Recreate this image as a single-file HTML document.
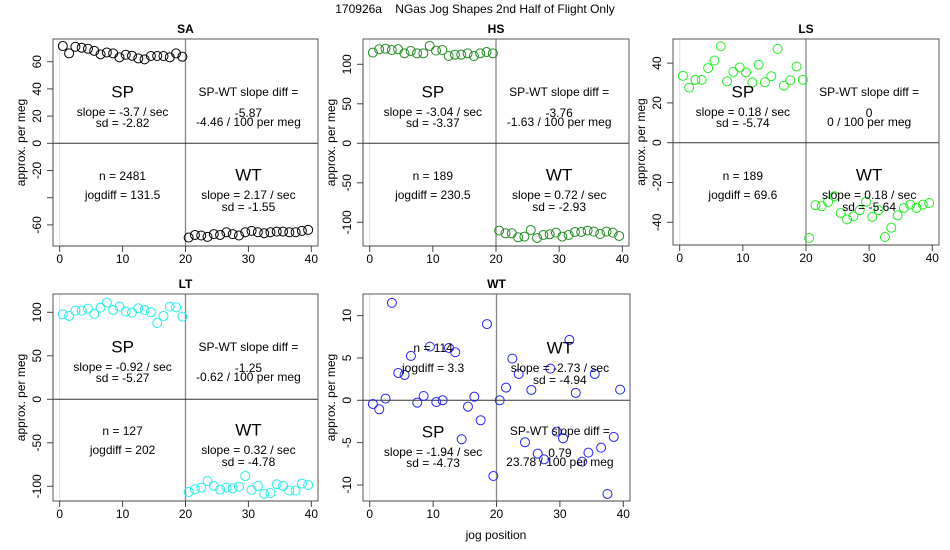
<!DOCTYPE html>
<html><head><meta charset="utf-8"><style>
html,body{margin:0;padding:0;background:#fff;}
svg{display:block;font-family:"Liberation Sans",sans-serif;}
</style></head><body>
<svg id="chart" width="950" height="550" viewBox="0 0 950 550" xmlns="http://www.w3.org/2000/svg">
<text x="475" y="13" font-size="12" text-anchor="middle">170926a&#160;&#160;&#160;&#160;NGas Jog Shapes 2nd Half of Flight Only</text>
<text x="496" y="539" font-size="12" text-anchor="middle">jog position</text>
</svg>
<script>
const xTicks = [0, 10, 20, 30, 40];
const saSP = [71.5,66.1,71,70.3,69.5,68,65.4,66.8,66.1,63.2,65.1,64.4,62.4,61.7,64.2,64.2,64.2,63.2,66.1,63.7];
const saWT = [-69.3,-67.4,-67.8,-68.8,-66.8,-67.4,-65.4,-66.8,-67.8,-65.4,-64.4,-65.4,-66.1,-65.4,-64.9,-64.9,-65.4,-65.4,-64.4,-63.7];
const hsSP = [114.8,119,119.8,118.1,119,113.9,116.9,113.9,113.9,123.2,117.3,118.1,110.5,112.2,112.2,113.9,110.5,113.9,115.6,113.9];
const hsWT = [-110.5,-113.9,-113.9,-119,-118.1,-109.7,-119.8,-116,-115.2,-113.1,-118.1,-116,-112.2,-112.2,-110.5,-111.8,-114.8,-111.8,-113.1,-117.3];
const lsSP = [33.6,27.7,31.6,31.6,37.5,41.3,48.4,30.8,35.6,37.8,35.3,30.3,39.2,30.4,33.4,47.1,28.6,31.3,38.3,31.6];
const lsWT = [-47.9,-31.4,-31.9,-29.7,-26.9,-35.3,-38.5,-37,-33.9,-29.7,-37.3,-33.9,-47.4,-42.7,-36.5,-32.8,-31.1,-32.8,-31.1,-30.3];
const ltSP = [97.7,95.8,101.9,101.9,104.2,98.1,105.4,111.1,102.7,106.5,100.8,99.6,104.6,102.7,100,87.7,95.8,106.5,105.7,95];
const ltWT = [-106.5,-103.4,-101.5,-93.9,-99.6,-103.8,-101.5,-102.3,-100.4,-88.1,-104.2,-99.6,-108.8,-107.7,-97.7,-99.6,-105,-105,-96.9,-98.5];
const wtSP = [-0.43,-1.06,0.2,11.5,3.23,2.99,5.24,-0.28,0.51,6.34,-0.2,0,6.18,5.67,-4.6,-0.75,0.43,-2.36,9.0,-8.94];
const wtWT = [0,1.5,4.92,3.11,-4.96,1.22,-6.3,-6.97,3.74,-3.7,-4.49,7.13,0.87,-7.24,-6.18,3.11,-5.59,-11.06,-4.33,1.26];
const saTicks = [60,40,20,0,-20,-40,-60];
const saTickLabels = ["60","40","20","0","-20","","-60"];
const hsTicks = [100,50,0,-50,-100];
const lsTicks = [40,20,0,-20,-40];
const ltTicks = [100,50,0,-50,-100];
const wtTicks = [10,5,0,-5,-10];

const NS = "http://www.w3.org/2000/svg";
const svg = document.getElementById('chart');
function mk(tag, attrs, parent) {
  const e = document.createElementNS(NS, tag);
  for (const k in attrs) e.setAttribute(k, attrs[k]);
  (parent || svg).appendChild(e);
  return e;
}
function txt(parent, x, y, s, size, name, extra) {
  const t = mk('text', Object.assign({x: x, y: y, 'font-size': size, 'text-anchor': 'middle', 'dominant-baseline': 'central'}, extra || {}), parent);
  t.textContent = s;
  
  
  return t;
}

const panels = [
  {id:'sa', title:'SA', box:[53,39,318,246], y0:143.3, k:1.36, ticks:saTicks, labels:saTickLabels, sp:saSP, wt:saWT, col:'#000',
   sp_s:'-3.7', sp_sd:'-2.82', wt_s:'2.17', wt_sd:'-1.55', diff:'-5.87', per:'-4.46', n:'2481', jog:'131.5', layout:'top'},
  {id:'hs', title:'HS', box:[363,39,629,246], y0:143.3, k:0.79, ticks:hsTicks, sp:hsSP, wt:hsWT, col:'#228b22',
   sp_s:'-3.04', sp_sd:'-3.37', wt_s:'0.72', wt_sd:'-2.93', diff:'-3.76', per:'-1.63', n:'189', jog:'230.5', layout:'top'},
  {id:'ls', title:'LS', box:[673,39,939,245], y0:142.7, k:1.99, ticks:lsTicks, sp:lsSP, wt:lsWT, col:'#22ee22',
   sp_s:'0.18', sp_sd:'-5.74', wt_s:'0.18', wt_sd:'-5.64', diff:'0', per:'0', n:'189', jog:'69.6', layout:'top'},
  {id:'lt', title:'LT', box:[53,294,318,501], y0:399.3, k:0.87, ticks:ltTicks, sp:ltSP, wt:ltWT, col:'#22eeee',
   sp_s:'-0.92', sp_sd:'-5.27', wt_s:'0.32', wt_sd:'-4.78', diff:'-1.25', per:'-0.62', n:'127', jog:'202', layout:'top'},
  {id:'wt', title:'WT', box:[363,294,630,501], y0:400.3, k:8.47, ticks:wtTicks, sp:wtSP, wt:wtWT, col:'#2222ff',
   sp_s:'-1.94', sp_sd:'-4.73', wt_s:'-2.73', wt_sd:'-4.94', diff:'0.79', per:'23.78', n:'114', jog:'3.3', layout:'wt'}
];

panels.forEach(p => {
  const [L,T,R,B] = p.box;
  const g = mk('g', {});
  
  
  const xs = v => L + (v + 1.06) / 42.12 * (R - L);
  const ys = v => p.y0 - v * p.k;
  txt(g, (L+R)/2, T - 10, p.title, 12, 'panel-title-' + p.id, {'font-weight':'bold'});
  const l0 = mk('line', {x1:xs(0), x2:xs(0), y1:T, y2:B, stroke:'#ddd', 'stroke-width':1}, g);
  
  
  const l20 = mk('line', {x1:xs(20), x2:xs(20), y1:T, y2:B, stroke:'#888', 'stroke-width':1.3}, g);
  
  
  const h0 = mk('line', {x1:L, x2:R, y1:ys(0), y2:ys(0), stroke:'#333', 'stroke-width':1}, g);
  
  
  const bx = mk('rect', {x:L, y:T, width:R-L, height:B-T, fill:'none', stroke:'#555', 'stroke-width':1}, g);
  
  
  xTicks.forEach(t => {
    const tl = mk('line', {x1:xs(t), x2:xs(t), y1:B, y2:B+6, stroke:'#444'}, g);
    
    
    txt(g, xs(t), B + 13, String(t), 12, 'x-tick-label');
  });
  const xa = mk('line', {x1:xs(0), x2:xs(40), y1:B, y2:B, stroke:'#444'}, g);
  
  
  p.ticks.forEach((t, i) => {
    const yl = mk('line', {x1:L-6, x2:L, y1:ys(t), y2:ys(t), stroke:'#444'}, g);
    
    
    const lab = p.labels ? p.labels[i] : String(t);
    if (lab) txt(g, L - 16, ys(t), lab, 12, 'y-tick-label', {transform:'rotate(-90 ' + (L-16) + ' ' + ys(t) + ')'});
  });
  const ya = mk('line', {x1:L, x2:L, y1:ys(p.ticks[0]), y2:ys(p.ticks[p.ticks.length-1]), stroke:'#444'}, g);
  
  
  txt(g, L - 32, (T+B)/2, 'approx. per meg', 12, 'y-axis-title', {transform:'rotate(-90 ' + (L-32) + ' ' + ((T+B)/2) + ')'});
  p.sp.forEach((v, i) => {
    const c = mk('circle', {cx:xs(i + 0.5), cy:ys(v), r:4.5, fill:'none', stroke:p.col, 'stroke-width':1}, g);
    
    
  });
  p.wt.forEach((v, i) => {
    const c = mk('circle', {cx:xs(i + 20.5), cy:ys(v), r:4.5, fill:'none', stroke:p.col, 'stroke-width':1}, g);
    
    
  });
  const xl = xs(10), xr = xs(30);
  if (p.layout === 'top') {
    txt(g, xl, T+53, 'SP', 17, 'sp-label');
    txt(g, xl, T+73, 'slope = ' + p.sp_s + ' / sec', 12, 'sp-slope');
    txt(g, xl, T+84, 'sd = ' + p.sp_sd, 12, 'sp-sd');
    txt(g, xr, T+53, 'SP-WT slope diff =', 12, 'diff-label');
    txt(g, xr, T+74, p.diff, 12, 'diff-value');
    txt(g, xr, T+83, p.per + ' / 100 per meg', 12, 'diff-per-meg');
    txt(g, xl, T+137, 'n = ' + p.n, 12, 'n-label');
    txt(g, xl, T+156, 'jogdiff = ' + p.jog, 12, 'jogdiff-label');
    txt(g, xr, T+136, 'WT', 17, 'wt-label');
    txt(g, xr, T+156, 'slope = ' + p.wt_s + ' / sec', 12, 'wt-slope');
    txt(g, xr, T+168, 'sd = ' + p.wt_sd, 12, 'wt-sd');
  } else {
    txt(g, xl, T+54, 'n = ' + p.n, 12, 'n-label');
    txt(g, xl, T+74, 'jogdiff = ' + p.jog, 12, 'jogdiff-label');
    txt(g, xr, T+54, 'WT', 17, 'wt-label');
    txt(g, xr, T+74, 'slope = ' + p.wt_s + ' / sec', 12, 'wt-slope');
    txt(g, xr, T+86, 'sd = ' + p.wt_sd, 12, 'wt-sd');
    txt(g, xl, T+138, 'SP', 17, 'sp-label');
    txt(g, xl, T+158, 'slope = ' + p.sp_s + ' / sec', 12, 'sp-slope');
    txt(g, xl, T+169, 'sd = ' + p.sp_sd, 12, 'sp-sd');
    txt(g, xr, T+137, 'SP-WT slope diff =', 12, 'diff-label');
    txt(g, xr, T+159, p.diff, 12, 'diff-value');
    txt(g, xr, T+168, p.per + ' / 100 per meg', 12, 'diff-per-meg');
  }
});
</script>
</body></html>
